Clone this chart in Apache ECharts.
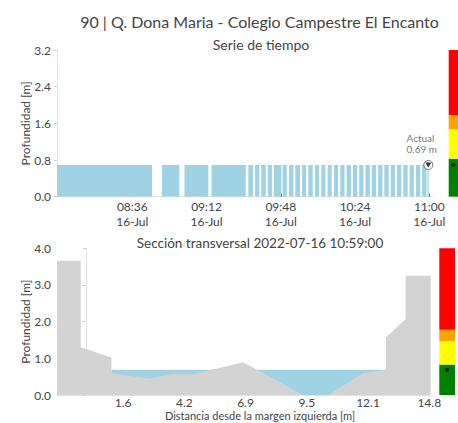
<!DOCTYPE html>
<html>
<head>
<meta charset="utf-8">
<script src="https://cdn.jsdelivr.net/npm/echarts@6/dist/echarts.min.js"></script>
<style>
html,body{margin:0;padding:0;background:#fff;}
#chart{width:458px;height:423px;}
</style>
</head>
<body>
<div id="chart"></div>
<script>
// ---------- DATA ----------
const chartTitle = '90 | Q. Dona Maria - Colegio Campestre El Encanto';
const topSubtitle = 'Serie de tiempo';
const sectionSubtitle = 'Sección transversal 2022-07-16 10:59:00';
const sectionAxisName = 'Distancia desde la margen izquierda [m]';
const depthAxisName = 'Profundidad [m]';
const dateStr = '2022-07-16';

// time-series segments (continuous data runs) with depth [m]
const segStart = ['07:59:30','08:50:24','09:01:18','09:14:24','09:32:15','09:35:30','09:38:30','09:41:39','09:44:33','09:48:54',
  '09:52:00','09:55:00','09:58:18','10:01:18','10:04:36','10:07:36','10:10:42','10:13:48','10:16:51','10:19:54',
  '10:22:57','10:26:00','10:29:03','10:32:06','10:35:12','10:38:12','10:41:18','10:44:18','10:47:24','10:50:27',
  '10:53:30','10:56:33','10:59:06'];
const segEnd = ['08:45:33','08:58:48','09:12:51','09:31:00','09:34:30','09:37:36','09:40:42','09:43:42','09:48:15','09:50:54',
  '09:54:06','09:57:18','10:00:12','10:03:30','10:06:30','10:09:36','10:12:42','10:15:42','10:18:54','10:22:00',
  '10:25:03','10:28:06','10:31:09','10:34:12','10:37:18','10:40:18','10:43:24','10:46:24','10:49:30','10:52:30',
  '10:55:36','10:58:39','10:59:42'];
const segDepth = [0.69,0.69,0.69,0.69,0.69,0.69,0.69,0.69,0.69,0.69,
  0.69,0.69,0.69,0.69,0.69,0.69,0.69,0.69,0.69,0.69,
  0.69,0.69,0.69,0.69,0.69,0.69,0.69,0.69,0.69,0.69,
  0.69,0.69,0.69];
const actualTime = '10:59:30';
const actualDepth = 0.69;
const timeTicks = ['08:36','09:12','09:48','10:24','11:00'];
const timeTickDay = '16-Jul';

// cross section
const sectionDist  = [-1.242,-0.221,-0.221,1.1,1.1,2.749,3.727,4.687,6.767,9.35,10.426,11.933,12.91,12.91,13.759,13.759,14.835,14.835];
const sectionDepth = [3.66,3.66,1.30,1.02,0.59,0.44,0.57,0.57,0.89,0.0,0.0,0.60,0.68,1.57,2.07,3.25,3.25,0.0];
const waterFrom = 1.1, waterTo = 12.91;
const sectionTicks = [1.6,4.235,6.87,9.505,12.14,14.775];
const sectionTickLabels = ['1.6','4.2','6.9','9.5','12.1','14.8'];

// alert thresholds [m]
const alertLevels = [0.83,1.47,1.78];
const alertColors = ['#008000','#ffff00','#ffa500','#ff0000'];
const topMax = 3.2, sectionMax = 4.0;

// ---------- BUILD ----------
// time in minutes since midnight
const T = s => { const p = s.split(':').map(Number); return p[0] * 60 + p[1] + (p[2] || 0) / 60; };
const tsData = [];
for (let i = 0; i < segStart.length; i++) {
  tsData.push([T(segStart[i]), segDepth[i]]);
  tsData.push([T(segEnd[i]), segDepth[i]]);
  if (i < segStart.length - 1) tsData.push([T(segEnd[i]), '-']);
}
const secData = sectionDist.map((d, i) => [d, sectionDepth[i]]);
const waterData = [[waterFrom, actualDepth], [waterTo, actualDepth]];
const timeTickVals = timeTicks.map(T);

const textColor = '#444';
const FONT = 'Lato';
const BLUE = '#9fd3e3';
const GRAY = '#d3d3d3';

function alertSeries(xi, yi, maxV) {
  const bounds = [0].concat(alertLevels, [maxV]);
  const out = [];
  for (let k = 0; k < 4; k++) {
    out.push({
      type: 'bar', xAxisIndex: xi, yAxisIndex: yi, stack: 'a' + xi,
      data: [bounds[k + 1] - bounds[k]], barWidth: '100%',
      itemStyle: { color: alertColors[k] }, silent: true
    });
  }
  out.push({
    type: 'scatter', xAxisIndex: xi, yAxisIndex: yi, data: [[0, actualDepth]],
    symbolSize: 4, itemStyle: { color: '#000' }, z: 5, silent: true
  });
  return out;
}

// filled area under a polyline, down to depth 0, drawn through the axes
function areaSeries(data, color, z) {
  return {
    type: 'custom', xAxisIndex: 2, yAxisIndex: 2, data: data, z: z, silent: true,
    encode: { x: 0, y: 1 },
    renderItem: (params, api) => {
      if (params.dataIndex !== 0) return null;
      const pts = data.map(d => api.coord(d));
      pts.push(api.coord([data[data.length - 1][0], 0]));
      pts.push(api.coord([data[0][0], 0]));
      return { type: 'polygon', shape: { points: pts }, style: { fill: color, stroke: null } };
    }
  };
}

const axisLineStyle = { show: true, lineStyle: { color: '#e3e3e3', width: 1 } };
const yLabel = { color: textColor, fontSize: 12, fontFamily: FONT, margin: 6, formatter: v => v.toFixed(1) };
const yTick = { show: true, length: 3, lineStyle: { color: '#cfcfcf' } };
const noLine = { width: 0, opacity: 0 };
const yName = { name: depthAxisName, nameLocation: 'middle', nameGap: 26, nameMoveOverlap: false,
  nameTextStyle: { fontSize: 12, color: textColor, fontFamily: FONT } };

const option = {
  animation: false,
  backgroundColor: '#fff',
  textStyle: { fontFamily: FONT },
  title: [
    { text: chartTitle, left: 254.5, top: 8, textAlign: 'center',
      textStyle: { fontSize: 16, fontWeight: 'normal', color: textColor, fontFamily: FONT } },
    { text: topSubtitle, left: 256, top: 32, textAlign: 'center',
      textStyle: { fontSize: 14, fontWeight: 'normal', color: textColor, fontFamily: FONT } },
    { text: sectionSubtitle, left: 255, top: 230.5, textAlign: 'center',
      textStyle: { fontSize: 13.5, fontWeight: 'normal', color: textColor, fontFamily: FONT } },
    { text: sectionAxisName, left: 260, top: 410, textAlign: 'center', padding: 0,
      textStyle: { fontSize: 11, fontWeight: 'normal', color: textColor, fontFamily: FONT } }
  ],
  grid: [
    { left: 57, top: 50, width: 376, height: 146.7 },
    { left: 448.7, top: 50, width: 16, height: 146.7 },
    { left: 57, top: 248.3, width: 374, height: 146.7 },
    { left: 439.3, top: 248.3, width: 15.7, height: 146.7 }
  ],
  xAxis: [
    { type: 'value', gridIndex: 0, min: T('07:59:29'), max: T('11:01:47'),
      axisLine: axisLineStyle, splitLine: { show: false },
      axisTick: { show: true, inside: true, length: 3, lineStyle: { color: '#555' },
        customValues: timeTickVals },
      axisLabel: { customValues: timeTickVals, color: textColor, fontSize: 12, fontFamily: FONT,
        lineHeight: 15, margin: 2, hideOverlap: false,
        formatter: v => { const i = timeTickVals.findIndex(t => Math.abs(t - v) < 1e-6); return i >= 0 ? timeTicks[i] + '\n' + timeTickDay : ''; } } },
    { type: 'category', gridIndex: 1, data: ['a'], show: false },
    { type: 'value', gridIndex: 2, min: -1.242, max: 14.85,
      axisLine: axisLineStyle, splitLine: { show: false },
      axisTick: { show: true, inside: true, length: 3, lineStyle: { color: '#555' }, customValues: sectionTicks },
      axisLabel: { customValues: sectionTicks, color: textColor, fontSize: 12, lineHeight: 12, fontFamily: FONT, margin: 1.5,
        formatter: v => { const i = sectionTicks.findIndex(t => Math.abs(t - v) < 1e-6); return i >= 0 ? sectionTickLabels[i] : ''; } } },
    { type: 'category', gridIndex: 3, data: ['a'], show: false }
  ],
  yAxis: [
    Object.assign({ type: 'value', gridIndex: 0, min: 0, max: topMax, interval: 0.8,
      axisLine: axisLineStyle, axisTick: yTick, axisLabel: yLabel, splitLine: { show: false } }, yName),
    { type: 'value', gridIndex: 1, min: 0, max: topMax, show: false },
    Object.assign({ type: 'value', gridIndex: 2, min: 0, max: sectionMax, interval: 1,
      axisLine: axisLineStyle, axisTick: yTick, axisLabel: yLabel, splitLine: { show: false } }, yName),
    { type: 'value', gridIndex: 3, min: 0, max: sectionMax, show: false }
  ],
  series: [
    { type: 'line', xAxisIndex: 0, yAxisIndex: 0, data: tsData, showSymbol: false, connectNulls: false,
      lineStyle: noLine, itemStyle: { color: BLUE },
      areaStyle: { color: BLUE, opacity: 1 }, silent: true },
    { type: 'scatter', xAxisIndex: 0, yAxisIndex: 0, data: [[T(actualTime), actualDepth]],
      symbol: 'circle', symbolSize: 9, itemStyle: { color: '#fff', borderColor: '#555', borderWidth: 1 }, z: 4,
      label: { show: true, position: [-16.8, -28], align: 'left', verticalAlign: 'top',
        fontSize: 10, lineHeight: 11.5, color: '#555', fontFamily: FONT,
        formatter: p => 'Actual\n' + p.value[1].toFixed(2) + ' m' }, silent: true },
    { type: 'scatter', xAxisIndex: 0, yAxisIndex: 0, data: [[T(actualTime), actualDepth]],
      symbol: 'triangle', symbolRotate: 180, symbolSize: [6, 5], itemStyle: { color: '#000' }, z: 5, silent: true },
    ...alertSeries(1, 1, topMax),
    areaSeries(waterData, BLUE, 1),
    areaSeries(secData, GRAY, 2),
    ...alertSeries(3, 3, sectionMax)
  ]
};

const chart = echarts.init(document.getElementById('chart'), null, { renderer: 'svg' });
chart.setOption(option);
</script>
</body>
</html>
